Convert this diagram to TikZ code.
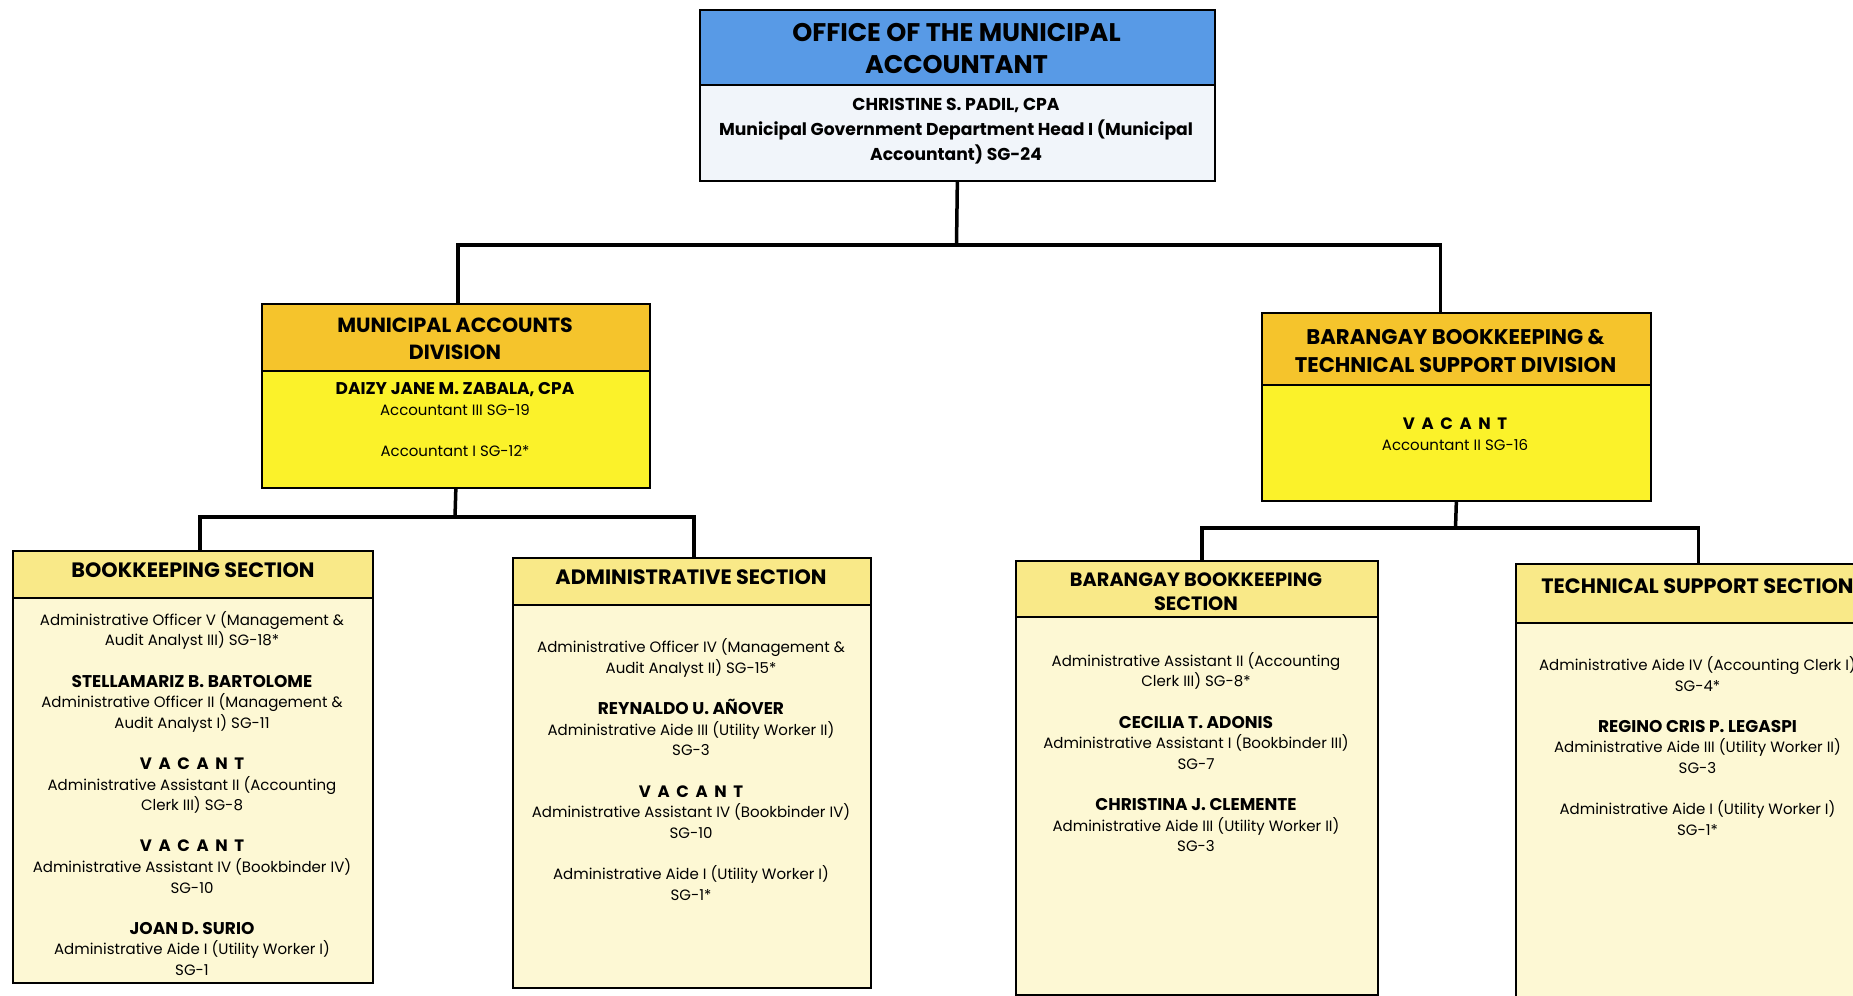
\documentclass[tikz,border=0pt]{standalone}
\usepackage{fontspec}
\setmainfont{Poppins}
\usetikzlibrary{calc}
\definecolor{hdrblue}{RGB}{88,154,230}
\definecolor{topbody}{RGB}{241,245,250}
\definecolor{divhdr}{RGB}{245,196,44}
\definecolor{divbody}{RGB}{251,242,42}
\definecolor{sechdr}{RGB}{249,233,136}
\definecolor{secbody}{RGB}{253,248,212}
% bold name lines and the spaced-out vacancy mark
\newcommand\who[1]{{\bfseries\fontsize{17}{20.6}\selectfont #1}}
\newcommand\vacant{{\bfseries\fontsize{16.5}{20.6}\selectfont\spaceskip=0.4em\relax V A C A N T}}
\begin{document}
\begin{tikzpicture}[x=1pt,y=-1pt,
  box/.style={draw=black, line width=1.7pt, rectangle, inner sep=0pt, anchor=north west},
  conn/.style={draw=black, line width=3.5pt},
  tophead/.style={align=center, inner sep=0pt, font=\bfseries\fontsize{25.5}{32}\selectfont},
  divhead/.style={align=center, inner sep=0pt, font=\bfseries\fontsize{20.5}{27.5}\selectfont},
  sechead/.style={align=center, inner sep=0pt, font=\bfseries\fontsize{20.8}{24}\selectfont},
  toptxt/.style={align=center, inner sep=0pt, font=\bfseries\fontsize{17.2}{25}\selectfont},
  bodytxt/.style={align=center, inner sep=0pt, font=\fontsize{15}{20.6}\selectfont}
]
\useasboundingbox (0,0) rectangle (1853,996);
\clip (0,0) rectangle (1853,996);

% ---------- Office of the Municipal Accountant ----------
\node[box, fill=topbody, minimum width=515pt, minimum height=171pt] (top) at (699,9) {};
\node[box, fill=hdrblue, minimum width=515pt, minimum height=75pt] (topH) at (699,9) {};
\node[tophead] (topL) at (956.5,49) {OFFICE OF THE MUNICIPAL\\ACCOUNTANT};
\node[toptxt] (topT) at (956,131)
  {CHRISTINE S. PADIL, CPA\\Municipal Government Department Head I (Municipal\\Accountant) SG-24};

% ---------- Divisions ----------
\node[box, fill=divbody, minimum width=388pt, minimum height=184pt] (mad) at (261,303) {};
\node[box, fill=divhdr, minimum width=388pt, minimum height=67pt] (madH) at (261,303) {};
\node[divhead] (madL) at (455,339) {MUNICIPAL ACCOUNTS\\DIVISION};
\node[bodytxt] (madT) at (455,419.5)
  {\who{DAIZY JANE M. ZABALA, CPA}\\Accountant III SG-19\\[20.6pt]Accountant I SG-12*};

\node[box, fill=divbody, minimum width=389pt, minimum height=188pt] (bbt) at (1261,312) {};
\node[box, fill=divhdr, minimum width=389pt, minimum height=72pt] (bbtH) at (1261,312) {};
\node[divhead, font=\bfseries\fontsize{21.2}{27.5}\selectfont] (bbtL) at (1455.5,351)
  {BARANGAY BOOKKEEPING \&\\TECHNICAL SUPPORT DIVISION};
\node[bodytxt] (bbtT) at (1455,434.5)
  {\vacant\\Accountant II SG-16};

% ---------- Sections ----------
\node[box, fill=secbody, minimum width=360pt, minimum height=432pt] (bk) at (12,550) {};
\node[box, fill=sechdr, minimum width=360pt, minimum height=47pt] (bkH) at (12,550) {};
\node[sechead] (bkL) at (193,570) {BOOKKEEPING SECTION};
\node[bodytxt] (bkT) at (192,793.5)
  {Administrative Officer V (Management \&\\Audit Analyst III) SG-18*\\[20.6pt]
   \who{STELLAMARIZ B. BARTOLOME}\\Administrative Officer II (Management \&\\Audit Analyst I) SG-11\\[20.6pt]
   \vacant\\Administrative Assistant II (Accounting\\Clerk III) SG-8\\[20.6pt]
   \vacant\\Administrative Assistant IV (Bookbinder IV)\\SG-10\\[20.6pt]
   \who{JOAN D. SURIO}\\Administrative Aide I (Utility Worker I)\\SG-1};

\node[box, fill=secbody, minimum width=358pt, minimum height=430pt] (adm) at (512,557) {};
\node[box, fill=sechdr, minimum width=358pt, minimum height=47pt] (admH) at (512,557) {};
\node[sechead] (admL) at (691,577) {ADMINISTRATIVE SECTION};
\node[bodytxt] (admT) at (691,769.5)
  {Administrative Officer IV (Management \&\\Audit Analyst II) SG-15*\\[20.6pt]
   \who{REYNALDO U. AÑOVER}\\Administrative Aide III (Utility Worker II)\\SG-3\\[20.6pt]
   \vacant\\Administrative Assistant IV (Bookbinder IV)\\SG-10\\[20.6pt]
   Administrative Aide I (Utility Worker I)\\SG-1*};

\node[box, fill=secbody, minimum width=362pt, minimum height=434pt] (bbs) at (1015,560) {};
\node[box, fill=sechdr, minimum width=362pt, minimum height=56pt] (bbsH) at (1015,560) {};
\node[sechead, font=\bfseries\fontsize{19.3}{24}\selectfont] (bbsL) at (1196,592) {BARANGAY BOOKKEEPING\\SECTION};
\node[bodytxt] (bbsT) at (1196,752)
  {Administrative Assistant II (Accounting\\Clerk III) SG-8*\\[20.6pt]
   \who{CECILIA T. ADONIS}\\Administrative Assistant I (Bookbinder III)\\SG-7\\[20.6pt]
   \who{CHRISTINA J. CLEMENTE}\\Administrative Aide III (Utility Worker II)\\SG-3};

\node[box, fill=secbody, minimum width=365pt, minimum height=460pt] (tech) at (1515,563) {};
\node[box, fill=sechdr, minimum width=365pt, minimum height=59pt] (techH) at (1515,563) {};
\node[sechead] (techL) at (1697.5,586) {TECHNICAL SUPPORT SECTION};
\node[bodytxt] (techT) at (1697.5,746)
  {Administrative Aide IV (Accounting Clerk I)\\SG-4*\\[20.6pt]
   \who{REGINO CRIS P. LEGASPI}\\Administrative Aide III (Utility Worker II)\\SG-3\\[20.6pt]
   Administrative Aide I (Utility Worker I)\\SG-1*};

% ---------- Connectors ----------
\coordinate (j1) at (956.5,245);
\coordinate (j2) at (455,517);
\coordinate (j3) at (1455.5,528);
\draw[conn] (top.south) -- (j1);
\draw[conn] ($(mad.north)+(2,0)$) |- (j1) -| ($(bbt.north)+(-16,0)$);
\draw[conn] (mad.south) -- (j2);
\draw[conn] ($(bk.north)+(7,0)$) |- (j2) -| ($(adm.north)+(2,0)$);
\draw[conn] (bbt.south) -- (j3);
\draw[conn] ($(bbs.north)+(5,0)$) |- (j3) -| (tech.north);
\end{tikzpicture}
\end{document}
